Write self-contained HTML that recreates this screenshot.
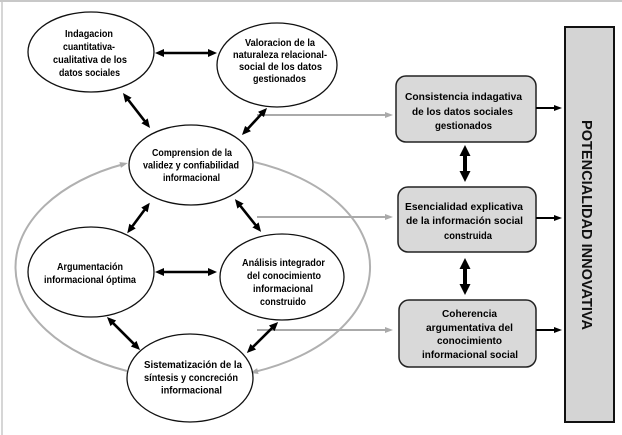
<!DOCTYPE html>
<html><head><meta charset="utf-8"><style>
html,body{margin:0;padding:0;background:#fff;}
svg{display:block;}
text{font-family:"Liberation Sans",Arial,sans-serif;font-weight:bold;font-size:10.5px;fill:#000;}
</style></head><body>
<svg width="622" height="435" viewBox="0 0 622 435" xmlns="http://www.w3.org/2000/svg">
<defs>
<marker id="ab" markerUnits="userSpaceOnUse" markerWidth="12" markerHeight="12" refX="5" refY="5" orient="auto-start-reverse"><path d="M0,1 L9,5 L0,9 z" fill="#000"/></marker>
<marker id="abig" markerUnits="userSpaceOnUse" markerWidth="14" markerHeight="14" refX="5" refY="6" orient="auto-start-reverse"><path d="M0,0.5 L11,6 L0,11.5 z" fill="#000"/></marker>
<marker id="as" markerUnits="userSpaceOnUse" markerWidth="10" markerHeight="10" refX="4" refY="4" orient="auto"><path d="M0,1 L8,4 L0,7 z" fill="#000"/></marker>
<marker id="ag" markerUnits="userSpaceOnUse" markerWidth="10" markerHeight="10" refX="4" refY="4" orient="auto"><path d="M0,1 L8,4 L0,7 z" fill="#aaa"/></marker>
</defs>

<!-- frame lines -->
<line x1="0" y1="1" x2="622" y2="1" stroke="#b5b5b5" stroke-width="1.5"/>
<line x1="2" y1="0" x2="2" y2="435" stroke="#c8c8c8" stroke-width="1.5"/>

<!-- gray big loop -->
<path d="M127,371 A178,112 0 0 1 124,164" fill="none" stroke="#b0b0b0" stroke-width="2" marker-end="url(#ag)"/>
<path d="M254,162 A178,112 0 0 1 254,372" fill="none" stroke="#b0b0b0" stroke-width="2" marker-end="url(#ag)"/>

<!-- gray connectors to boxes -->
<line x1="257" y1="115" x2="389" y2="115" stroke="#aaa" stroke-width="2" marker-end="url(#ag)"/>
<line x1="257" y1="217" x2="389" y2="217" stroke="#aaa" stroke-width="2" marker-end="url(#ag)"/>
<line x1="257" y1="330" x2="389" y2="330" stroke="#aaa" stroke-width="2" marker-end="url(#ag)"/>

<!-- ellipses -->
<g fill="#fff" stroke="#111" stroke-width="1.3">
<ellipse cx="91" cy="52" rx="63" ry="40"/>
<ellipse cx="277" cy="65" rx="60" ry="42"/>
<ellipse cx="191" cy="165" rx="62" ry="40"/>
<ellipse cx="91" cy="272" rx="63" ry="45"/>
<ellipse cx="282" cy="277" rx="62" ry="43"/>
<ellipse cx="190" cy="378" rx="63" ry="44"/>
</g>

<!-- black double arrows between ellipses -->
<g stroke="#000" stroke-width="2.6" marker-start="url(#ab)" marker-end="url(#ab)">
<line x1="159" y1="53" x2="213" y2="53"/>
<line x1="125.4" y1="96.2" x2="147.6" y2="124.8"/>
<line x1="264.3" y1="110.9" x2="244.7" y2="132.1"/>
<line x1="147.4" y1="206" x2="129.6" y2="230"/>
<line x1="237.4" y1="202.2" x2="258.6" y2="228.8"/>
<line x1="159" y1="272" x2="213" y2="272"/>
<line x1="109.8" y1="319.8" x2="137.2" y2="347.2"/>
<line x1="275.3" y1="324.8" x2="249.7" y2="350.2"/>
</g>

<!-- boxes -->
<g fill="#d9d9d9" stroke="#222" stroke-width="1.5">
<rect x="396" y="76" width="140" height="66" rx="10"/>
<rect x="398" y="187" width="138" height="65" rx="10"/>
<rect x="399" y="300" width="137" height="67" rx="10"/>
</g>
<rect x="565" y="27" width="49" height="395" fill="#d4d4d4" stroke="#111" stroke-width="2"/>

<!-- vertical thick double arrows -->
<g stroke="#000" stroke-width="4" marker-start="url(#abig)" marker-end="url(#abig)">
<line x1="465" y1="151" x2="465" y2="176"/>
<line x1="465" y1="264" x2="465" y2="289"/>
</g>

<!-- box to big rect arrows -->
<g stroke="#000" stroke-width="2" marker-end="url(#as)">
<line x1="536" y1="108" x2="558" y2="108"/>
<line x1="536" y1="218" x2="558" y2="218"/>
<line x1="536" y1="330" x2="558" y2="330"/>
</g>

<!-- ellipse texts -->
<g text-anchor="middle">
<text x="89" y="37" textLength="48" lengthAdjust="spacingAndGlyphs">Indagacion</text>
<text x="89" y="50" textLength="52" lengthAdjust="spacingAndGlyphs">cuantitativa-</text>
<text x="90" y="63" textLength="74" lengthAdjust="spacingAndGlyphs">cualitativa de los</text>
<text x="89.5" y="76" textLength="61" lengthAdjust="spacingAndGlyphs">datos sociales</text>

<text x="280" y="46" textLength="70" lengthAdjust="spacingAndGlyphs">Valoracion de la</text>
<text x="280" y="58" textLength="94" lengthAdjust="spacingAndGlyphs">naturaleza relacional-</text>
<text x="280.5" y="70" textLength="83" lengthAdjust="spacingAndGlyphs">social de los datos</text>
<text x="279.5" y="82" textLength="53" lengthAdjust="spacingAndGlyphs">gestionados</text>

<text x="192" y="156" textLength="80" lengthAdjust="spacingAndGlyphs">Comprension de la</text>
<text x="191" y="168.5" textLength="96" lengthAdjust="spacingAndGlyphs">validez y confiabilidad</text>
<text x="191.5" y="181" textLength="57" lengthAdjust="spacingAndGlyphs">informacional</text>

<text x="90" y="270" textLength="66" lengthAdjust="spacingAndGlyphs">Argumentación</text>
<text x="90" y="283" textLength="92" lengthAdjust="spacingAndGlyphs">informacional óptima</text>

<text x="283.5" y="266" textLength="83" lengthAdjust="spacingAndGlyphs">Análisis integrador</text>
<text x="284" y="279" textLength="74" lengthAdjust="spacingAndGlyphs">del conocimiento</text>
<text x="283" y="292" textLength="60" lengthAdjust="spacingAndGlyphs">informacional</text>
<text x="283" y="305" textLength="46" lengthAdjust="spacingAndGlyphs">construido</text>

<text x="193" y="368" textLength="98" lengthAdjust="spacingAndGlyphs">Sistematización de la</text>
<text x="191" y="381" textLength="94" lengthAdjust="spacingAndGlyphs">síntesis y concreción</text>
<text x="191.5" y="393.5" textLength="61" lengthAdjust="spacingAndGlyphs">informacional</text>

<!-- box texts -->
<text x="463.5" y="100" textLength="117" lengthAdjust="spacingAndGlyphs">Consistencia indagativa</text>
<text x="462.5" y="115" textLength="101" lengthAdjust="spacingAndGlyphs">de los datos sociales</text>
<text x="463.5" y="129" textLength="57" lengthAdjust="spacingAndGlyphs">gestionados</text>

<text x="464" y="210" textLength="118" lengthAdjust="spacingAndGlyphs">Esencialidad explicativa</text>
<text x="464.5" y="224" textLength="117" lengthAdjust="spacingAndGlyphs">de la información social</text>
<text x="468" y="239" textLength="48" lengthAdjust="spacingAndGlyphs">construida</text>

<text x="469.5" y="317" textLength="55" lengthAdjust="spacingAndGlyphs">Coherencia</text>
<text x="469.5" y="331" textLength="87" lengthAdjust="spacingAndGlyphs">argumentativa del</text>
<text x="469.5" y="344" textLength="65" lengthAdjust="spacingAndGlyphs">conocimiento</text>
<text x="470" y="358" textLength="96" lengthAdjust="spacingAndGlyphs">informacional social</text>
</g>

<!-- vertical label -->
<text transform="translate(582,225) rotate(90)" text-anchor="middle" textLength="210" lengthAdjust="spacingAndGlyphs" style="font-size:15px;font-weight:bold;fill:#111;">POTENCIALIDAD INNOVATIVA</text>
</svg>
</body></html>
